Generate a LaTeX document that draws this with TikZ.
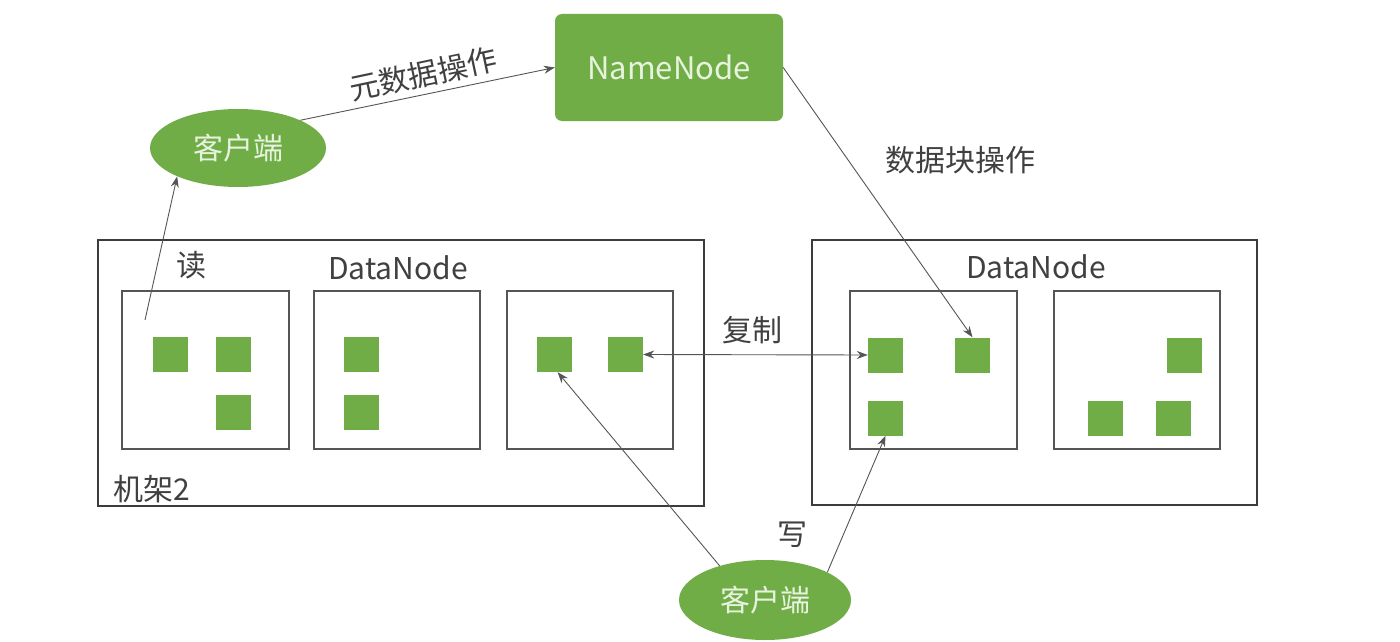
\documentclass[tikz,border=0pt]{standalone}
\usepackage{fontspec}
\setmainfont{Noto Sans CJK SC}
\usetikzlibrary{shapes.geometric,arrows.meta}
\definecolor{hgreen}{HTML}{70AD47}
\definecolor{hlight}{HTML}{E8F3DF}
\definecolor{hline}{HTML}{555555}
\definecolor{hrack}{HTML}{3C3C3C}
\definecolor{htext}{HTML}{404040}
\tikzset{
  rack/.style={draw=hrack,line width=2.6pt,fill=none},
  dnbox/.style={draw=hline,line width=1.5pt,fill=white},
  blk/.style={fill=hgreen,draw=none,minimum width=35pt,minimum height=35pt,inner sep=0pt},
  client/.style={ellipse,fill=hgreen,draw=none,text=hlight,inner sep=0pt,font=\fontsize{30}{36}\selectfont},
  nn/.style={rectangle,rounded corners=7pt,fill=hgreen,draw=none,text=hlight,inner sep=0pt,font=\fontsize{31}{37}\selectfont},
  lbl/.style={text=htext,inner sep=0pt,font=\fontsize{30}{36}\selectfont},
  arr/.style={draw=hline,line width=0.9pt,-{Stealth[length=11pt,width=8pt]}},
  darr/.style={draw=hline,line width=0.9pt,{Stealth[length=11pt,width=8pt]}-{Stealth[length=11pt,width=8pt]}},
}
\begin{document}
\begin{tikzpicture}[x=1pt,y=-1pt]
\useasboundingbox (0,0) rectangle (1400,642);
\fill[white] (0,0) rectangle (1400,642);
% racks
\node[rack,minimum width=606pt,minimum height=266pt,inner sep=0pt] (rackL) at (401,373) {};
\node[rack,minimum width=445pt,minimum height=265pt,inner sep=0pt] (rackR) at (1034.5,372.5) {};
% datanode boxes
\node[dnbox,minimum width=167pt,minimum height=158pt,inner sep=0pt] (d1) at (205.5,370) {};
\node[dnbox,minimum width=166pt,minimum height=158pt,inner sep=0pt] (d2) at (397,370) {};
\node[dnbox,minimum width=166pt,minimum height=158pt,inner sep=0pt] (d3) at (590,370) {};
\node[dnbox,minimum width=167pt,minimum height=158pt,inner sep=0pt] (d4) at (933.5,370) {};
\node[dnbox,minimum width=166pt,minimum height=158pt,inner sep=0pt] (d5) at (1137,370) {};
% blocks
\node[blk] (b1) at (170.5,354.5) {};
\node[blk] (b2) at (233.5,354.5) {};
\node[blk] (b3) at (233.5,412) {};
\node[blk] (b4) at (361.5,354.5) {};
\node[blk] (b5) at (361.5,412) {};
\node[blk] (b6) at (554.5,354.5) {};
\node[blk] (b7) at (625.5,354.5) {};
\node[blk] (b8) at (885.5,355) {};
\node[blk] (b9) at (972.5,355) {};
\node[blk] (b10) at (885.5,418) {};
\node[blk] (b11) at (1184.5,355) {};
\node[blk] (b12) at (1105.5,418) {};
\node[blk] (b13) at (1173.5,418) {};
% top nodes
\node[nn,minimum width=228pt,minimum height=107pt] (NN) at (669,67.5) {NameNode};
\node[client,minimum width=176pt,minimum height=78pt] (c1) at (238,148) {客户端};
\node[client,minimum width=172pt,minimum height=80pt] (c2) at (765,600) {客户端};
% labels
\node[lbl] (tread) at (191,265) {读};
\node[lbl] (tdn1) at (398,268) {DataNode};
\node[lbl] (tdn2) at (1036,267) {DataNode};
\node[lbl] (track) at (152,489) {机架2};
\node[lbl] (tcopy) at (752,330) {复制};
\node[lbl] (twrite) at (792,535) {写};
\node[lbl] (tblk) at (960,160) {数据块操作};
\node[lbl,rotate=12] (tmeta) at (423,74) {元数据操作};
% connectors
\coordinate (rs) at (145,320);
\draw[arr] (rs) -- (c1.205);
\draw[arr] (c1.24) -- (NN.west);
\draw[arr] (NN.east) -- (b9.north);
\draw[darr] (b7.east) -- (b8.west);
\draw[arr] (c2.143) -- (b6.-80);
\draw[arr] (c2.24) -- (b10.south);
\end{tikzpicture}
\end{document}
